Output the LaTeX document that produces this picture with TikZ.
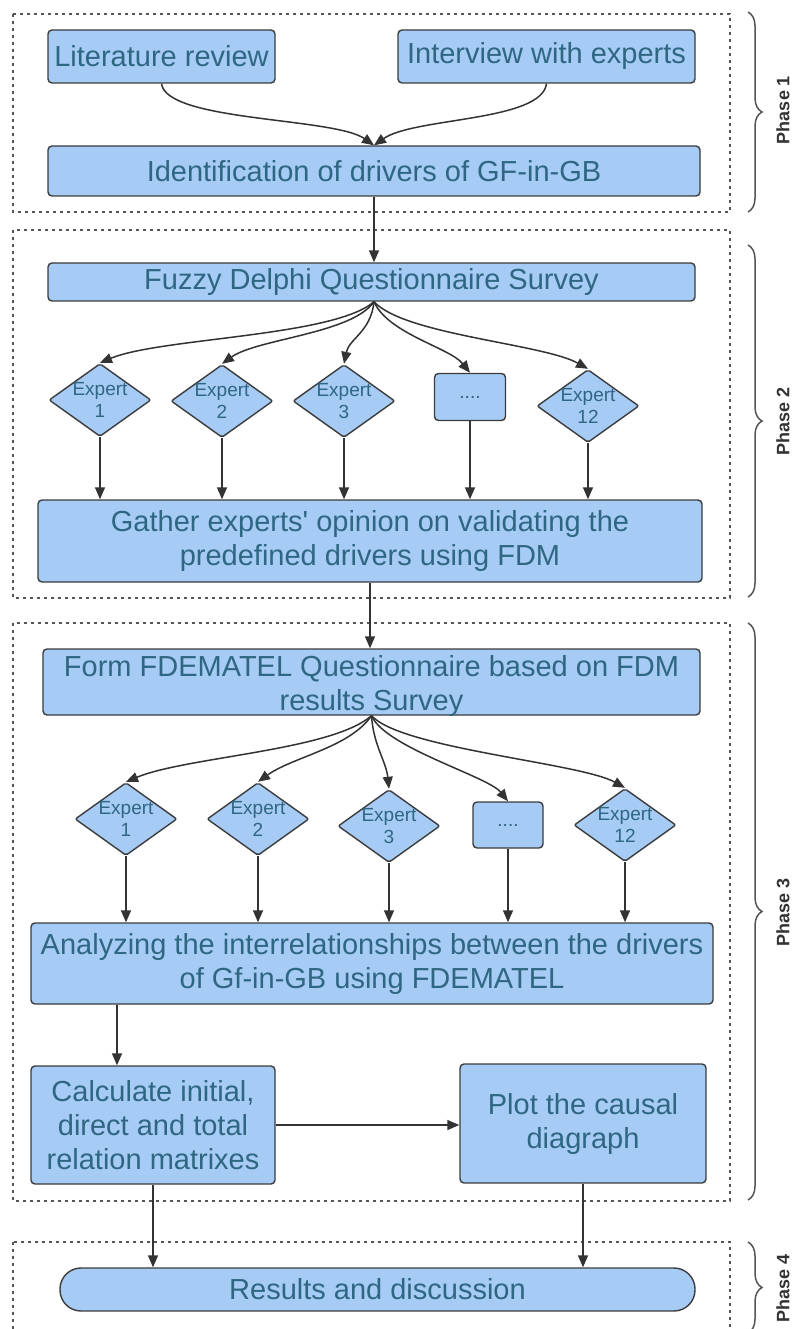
\documentclass[tikz,border=0pt]{standalone}
\usepackage{fontspec}
\setmainfont{Liberation Sans}
\usetikzlibrary{arrows.meta,shapes.geometric,decorations.pathreplacing}

\definecolor{boxfill}{HTML}{A6CBF5}
\definecolor{boxline}{HTML}{3C3C3C}
\definecolor{boxtext}{HTML}{2F6783}
\definecolor{linkcol}{HTML}{333333}
\definecolor{framecol}{HTML}{555555}

\tikzset{
  stepbox/.style={draw=boxline, fill=boxfill, line width=1.4pt, rounded corners=4pt,
    text=boxtext, align=center, inner sep=0pt,
    font=\fontsize{29}{34}\selectfont},
  steptext/.style={text=boxtext, align=center, inner sep=0pt,
    font=\fontsize{29}{34}\selectfont},
  pillbox/.style={stepbox, rounded corners=21pt},
  expertshape/.style={draw=boxline, fill=boxfill, line width=1.4pt, diamond,
    minimum width=102pt, minimum height=73pt, inner sep=0pt, rounded corners=2pt},
  experttext/.style={text=boxtext, align=center, inner sep=0pt,
    font=\fontsize{19}{22}\selectfont},
  dotsbox/.style={draw=boxline, fill=boxfill, line width=1.4pt, rounded corners=4pt,
    text=boxtext, inner sep=0pt, font=\fontsize{19}{22}\selectfont},
  link/.style={draw=linkcol, line width=1.5pt, -{Triangle[length=12pt,width=10pt]}},
  phaseframe/.style={draw=framecol, line width=1.3pt, dash pattern=on 3pt off 4pt},
  phasebrace/.style={draw=framecol, line width=1.5pt,
    decorate, decoration={brace, amplitude=14pt}},
  phaselabel/.style={rotate=90, text=black!80, inner sep=0pt,
    font=\fontsize{18}{20}\selectfont\bfseries},
}

\begin{document}
\begin{tikzpicture}[x=1pt, y=-1pt]
\useasboundingbox (0,0) rectangle (793,1329);
\clip (0,0) rectangle (793,1329);
\fill[white] (0,0) rectangle (793,1329);

% phase frames
\draw[phaseframe] (13,14) rectangle (730,212);
\draw[phaseframe] (13,230) rectangle (730,598);
\draw[phaseframe] (13,623) rectangle (730,1201);
\draw[phaseframe] (13,1242) rectangle (730,1360);

% phase braces and labels
\draw[phasebrace] (748,12) -- (748,212);
\draw[phasebrace] (748,245) -- (748,597);
\draw[phasebrace] (748,623) -- (748,1200);
\draw[phasebrace] (748,1242) -- (748,1333);
\node[phaselabel] (ph1) at (783,110) {Phase 1};
\node[phaselabel] (ph2) at (783,421) {Phase 2};
\node[phaselabel] (ph3) at (783,912) {Phase 3};
\node[phaselabel] (ph4) at (783,1288) {Phase 4};

% phase 1
\node[stepbox, minimum width=227pt, minimum height=53pt] (lit) at (161.5,56.5) {Literature review};
\node[stepbox, minimum width=297pt, minimum height=53pt] (int) at (546.5,56.5) {Interview with experts};
\node[stepbox, minimum width=652pt, minimum height=50pt] (idn) at (374,171) {Identification of drivers of GF-in-GB};

\draw[link] (lit.south) .. controls +(5,38) and +(-40,-28) .. (idn.north);
\draw[link] (int.south) .. controls +(-5,38) and +(40,-28) .. (idn.north);

% phase 2
\node[stepbox, minimum width=647pt, minimum height=38pt] (fz) at (371.5,282) {Fuzzy Delphi Questionnaire Survey};
\draw[link] (idn.south) -- (idn.south |- fz.north);
\coordinate (fzs) at ([xshift=2.5pt]fz.south);

\node[expertshape] (a1) at (100,400) {};
\node[experttext] (a1t) at (a1) {Expert\\1};
\node[expertshape] (a2) at (222,401) {};
\node[experttext] (a2t) at (a2) {Expert\\2};
\node[expertshape] (a3) at (344,401) {};
\node[experttext] (a3t) at (a3) {Expert\\3};
\node[dotsbox, minimum width=71pt, minimum height=47pt] (ad) at (470,397) {....};
\node[expertshape] (a12) at (588,406) {};
\node[experttext] (a12t) at (a12) {Expert\\12};

\draw[link] (fzs) .. controls +(-40,35) and +(60,-25) .. (a1.north);
\draw[link] (fzs) .. controls +(-22,32) and +(35,-25) .. (a2.north);
\draw[link] (fzs) .. controls +(-3,30) and +(5,-25) .. (a3.north);
\draw[link] (fzs) .. controls +(14,32) and +(-20,-25) .. (ad.north);
\draw[link] (fzs) .. controls +(30,33) and +(-45,-25) .. (a12.north);

\node[stepbox, minimum width=664pt, minimum height=82pt] (ga) at (370,541)
  {Gather experts\textquotesingle{} opinion on validating the\\predefined drivers using FDM};
\draw[link] (a1.south) -- (a1.south |- ga.north);
\draw[link] (a2.south) -- (a2.south |- ga.north);
\draw[link] (a3.south) -- (a3.south |- ga.north);
\draw[link] (ad.south) -- (ad.south |- ga.north);
\draw[link] (a12.south) -- (a12.south |- ga.north);

% phase 3
\node[stepbox, minimum width=657pt, minimum height=66pt] (fo) at (371.5,682) {};
\node[steptext] (fot) at (371.5,686) {Form FDEMATEL Questionnaire based on FDM\\results Survey};
\draw[link] (ga.south) -- (ga.south |- fo.north);

\node[expertshape] (b1) at (126,819) {};
\node[experttext] (b1t) at (b1) {Expert\\1};
\node[expertshape] (b2) at (258,819) {};
\node[experttext] (b2t) at (b2) {Expert\\2};
\node[expertshape] (b3) at (389,826) {};
\node[experttext] (b3t) at (b3) {Expert\\3};
\node[dotsbox, minimum width=70pt, minimum height=46pt] (bd) at (508,825) {....};
\node[expertshape] (b12) at (625,825) {};
\node[experttext] (b12t) at (b12) {Expert\\12};

\draw[link] (fo.south) .. controls +(-40,35) and +(60,-25) .. (b1.north);
\draw[link] (fo.south) .. controls +(-22,32) and +(35,-25) .. (b2.north);
\draw[link] (fo.south) .. controls +(2,30) and +(-3,-28) .. (b3.north);
\draw[link] (fo.south) .. controls +(14,32) and +(-20,-25) .. (bd.north);
\draw[link] (fo.south) .. controls +(30,33) and +(-45,-25) .. (b12.north);

\node[stepbox, minimum width=682pt, minimum height=81pt] (an) at (372,963.5)
  {Analyzing the interrelationships between the drivers\\of Gf-in-GB using FDEMATEL};
\draw[link] (b1.south) -- (b1.south |- an.north);
\draw[link] (b2.south) -- (b2.south |- an.north);
\draw[link] (b3.south) -- (b3.south |- an.north);
\draw[link] (bd.south) -- (bd.south |- an.north);
\draw[link] (b12.south) -- (b12.south |- an.north);

\node[stepbox, minimum width=244pt, minimum height=118pt] (calc) at (153,1125)
  {Calculate initial,\\direct and total\\relation matrixes};
\node[stepbox, minimum width=246pt, minimum height=119pt] (plot) at (583,1123.5)
  {Plot the causal\\diagraph};
\draw[link] ([xshift=-36pt]calc.north |- an.south) -- ([xshift=-36pt]calc.north);
\draw[link] (calc.east) -- (calc.east -| plot.west);

% phase 4
\node[pillbox, minimum width=635pt, minimum height=43pt] (res) at (377.5,1289.5) {Results and discussion};
\draw[link] (calc.south) -- (calc.south |- res.north);
\draw[link] (plot.south) -- (plot.south |- res.north);
\end{tikzpicture}
\end{document}
